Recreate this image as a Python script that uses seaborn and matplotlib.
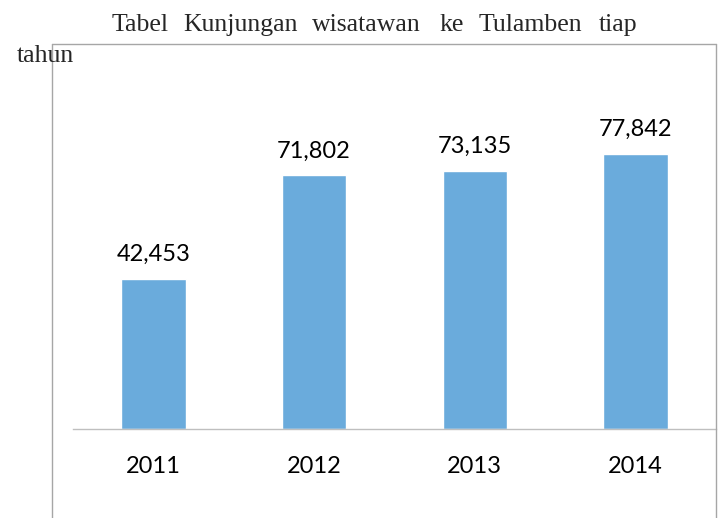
import matplotlib
matplotlib.use("Agg")
import matplotlib.pyplot as plt
import seaborn as sns
import pandas as pd
from matplotlib.lines import Line2D

years = ["2011", "2012", "2013", "2014"]
visitors = [42453, 71802, 73135, 77842]
title_line1 = ["Tabel", "Kunjungan", "wisatawan", "ke", "Tulamben", "tiap"]
title_line2 = ["tahun"]

sns.set_style("white")
plt.rcParams["font.family"] = ["Lato", "DejaVu Sans"]

W, H = 720, 518
fig = plt.figure(figsize=(W / 100, H / 100), dpi=100)

ax_left, ax_right, ax_bottom, ax_top = 73, 716, 429, 100
ax = fig.add_axes([ax_left / W, 1 - ax_bottom / H, (ax_right - ax_left) / W, (ax_bottom - ax_top) / H])

df = pd.DataFrame({"year": years, "visitors": visitors})
sns.barplot(data=df, x="year", y="visitors", color="#6aabdc", saturation=1, width=0.4, ax=ax)

px_per_unit = 275 / 77842
ax.set_xlim(-0.5, 3.5)
ax.set_ylim(0, (ax_bottom - ax_top) / px_per_unit)
ax.set_xlabel("")
ax.set_ylabel("")
ax.set_yticks([])
for s in ["left", "top", "right"]:
    ax.spines[s].set_visible(False)
ax.spines["bottom"].set_color("#bfbfbf")
ax.spines["bottom"].set_linewidth(1)
ax.tick_params(axis="x", length=0, pad=19.5, labelsize=17, labelcolor="#000000")

for i, v in enumerate(visitors):
    ax.annotate(f"{v:,}", (i, v), xytext=(0, 10), textcoords="offset points",
                ha="center", va="bottom", fontsize=17, color="#000000")

# outer frame
fc = "#a6a6a6"
fig.add_artist(Line2D([52 / W, 52 / W], [0, 1 - 44 / H], transform=fig.transFigure, color=fc, lw=1))
fig.add_artist(Line2D([716 / W, 716 / W], [0, 1 - 44 / H], transform=fig.transFigure, color=fc, lw=1))
fig.add_artist(Line2D([52 / W, 716 / W], [1 - 44 / H, 1 - 44 / H], transform=fig.transFigure, color=fc, lw=1))

# title (justified words)
xs1 = [112, 183, 312, 439, 479, 599]
for word, x in zip(title_line1, xs1):
    fig.text(x / W, 1 - 31 / H, word, family="Liberation Serif", fontsize=18.5, va="baseline", ha="left")
fig.text(17 / W, 1 - 62 / H, title_line2[0], family="Liberation Serif", fontsize=18.5, va="baseline", ha="left")

fig.savefig("out.png", dpi=100)
